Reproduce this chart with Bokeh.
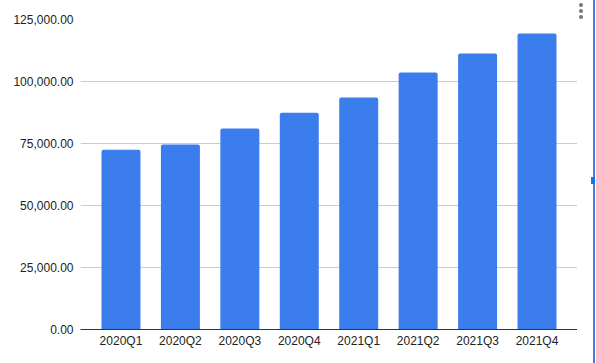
from bokeh.plotting import figure
from bokeh.layouts import row
from bokeh.models import FactorRange, Range1d, FixedTicker, NumeralTickFormatter, Div
from bokeh.embed import file_html
from bokeh.resources import INLINE

quarters = ["2020Q1", "2020Q2", "2020Q3", "2020Q4", "2021Q1", "2021Q2", "2021Q3", "2021Q4"]
values = [72500, 74600, 81000, 87400, 93500, 103600, 111300, 119400]
y_ticks = [0, 25000, 50000, 75000, 100000, 125000]

BAR_COLOR = "#3b7ded"
FONT = "Liberation Sans"

p = figure(
    width=577, height=363,
    x_range=FactorRange(factors=quarters, range_padding=0.181, range_padding_units="absolute"),
    y_range=Range1d(0, 125000),
    output_backend="svg", toolbar_location=None,
    min_border_left=80, min_border_right=0, min_border_top=19, min_border_bottom=34,
)
p.outline_line_color = None
p.background_fill_color = "white"
p.border_fill_color = "white"

p.vbar(x=quarters, top=values, width=0.656, color=BAR_COLOR, line_color=None,
       border_radius=(2, 2, 0, 0))

p.xgrid.grid_line_color = None
p.ygrid.grid_line_color = "#cccccc"
p.ygrid.grid_line_width = 1

p.yaxis.ticker = FixedTicker(ticks=y_ticks)
p.yaxis.formatter = NumeralTickFormatter(format="0,0.00")
p.yaxis.axis_line_color = None
p.yaxis.major_tick_line_color = None
p.yaxis.minor_tick_line_color = None
p.yaxis.major_tick_out = 0
p.yaxis.major_tick_in = 0
p.yaxis.major_label_standoff = 7
p.yaxis.major_label_text_font = FONT
p.yaxis.major_label_text_font_size = "12px"
p.yaxis.major_label_text_color = "#222222"

p.xaxis.axis_line_color = "#333333"
p.xaxis.axis_line_width = 1
p.xaxis.major_tick_line_color = None
p.xaxis.minor_tick_line_color = None
p.xaxis.major_tick_out = 0
p.xaxis.major_tick_in = 0
p.xaxis.major_label_standoff = 4
p.xaxis.major_label_text_font = FONT
p.xaxis.major_label_text_font_size = "12px"
p.xaxis.major_label_text_color = "#222222"

# right-edge UI strip (menu dots, selection border and handle)
dot = ('<div style="position:absolute;left:2px;top:{t}px;width:4px;height:4px;'
       'border-radius:2px;background:#757575"></div>')
strip_html = (
    '<div style="position:relative;box-sizing:border-box;width:18px;height:363px;'
    'background:white;border-right:2px solid #4a7bd6">'
    + dot.format(t=3) + dot.format(t=9) + dot.format(t=15)
    + '<div style="position:absolute;left:14px;top:177px;width:4px;height:7px;background:#1a73e8"></div>'
    + '</div>'
)
strip = Div(text=strip_html, width=19, height=363, margin=0)

layout = row(p, strip, spacing=0)
open("out.html", "w").write(file_html(layout, INLINE))
